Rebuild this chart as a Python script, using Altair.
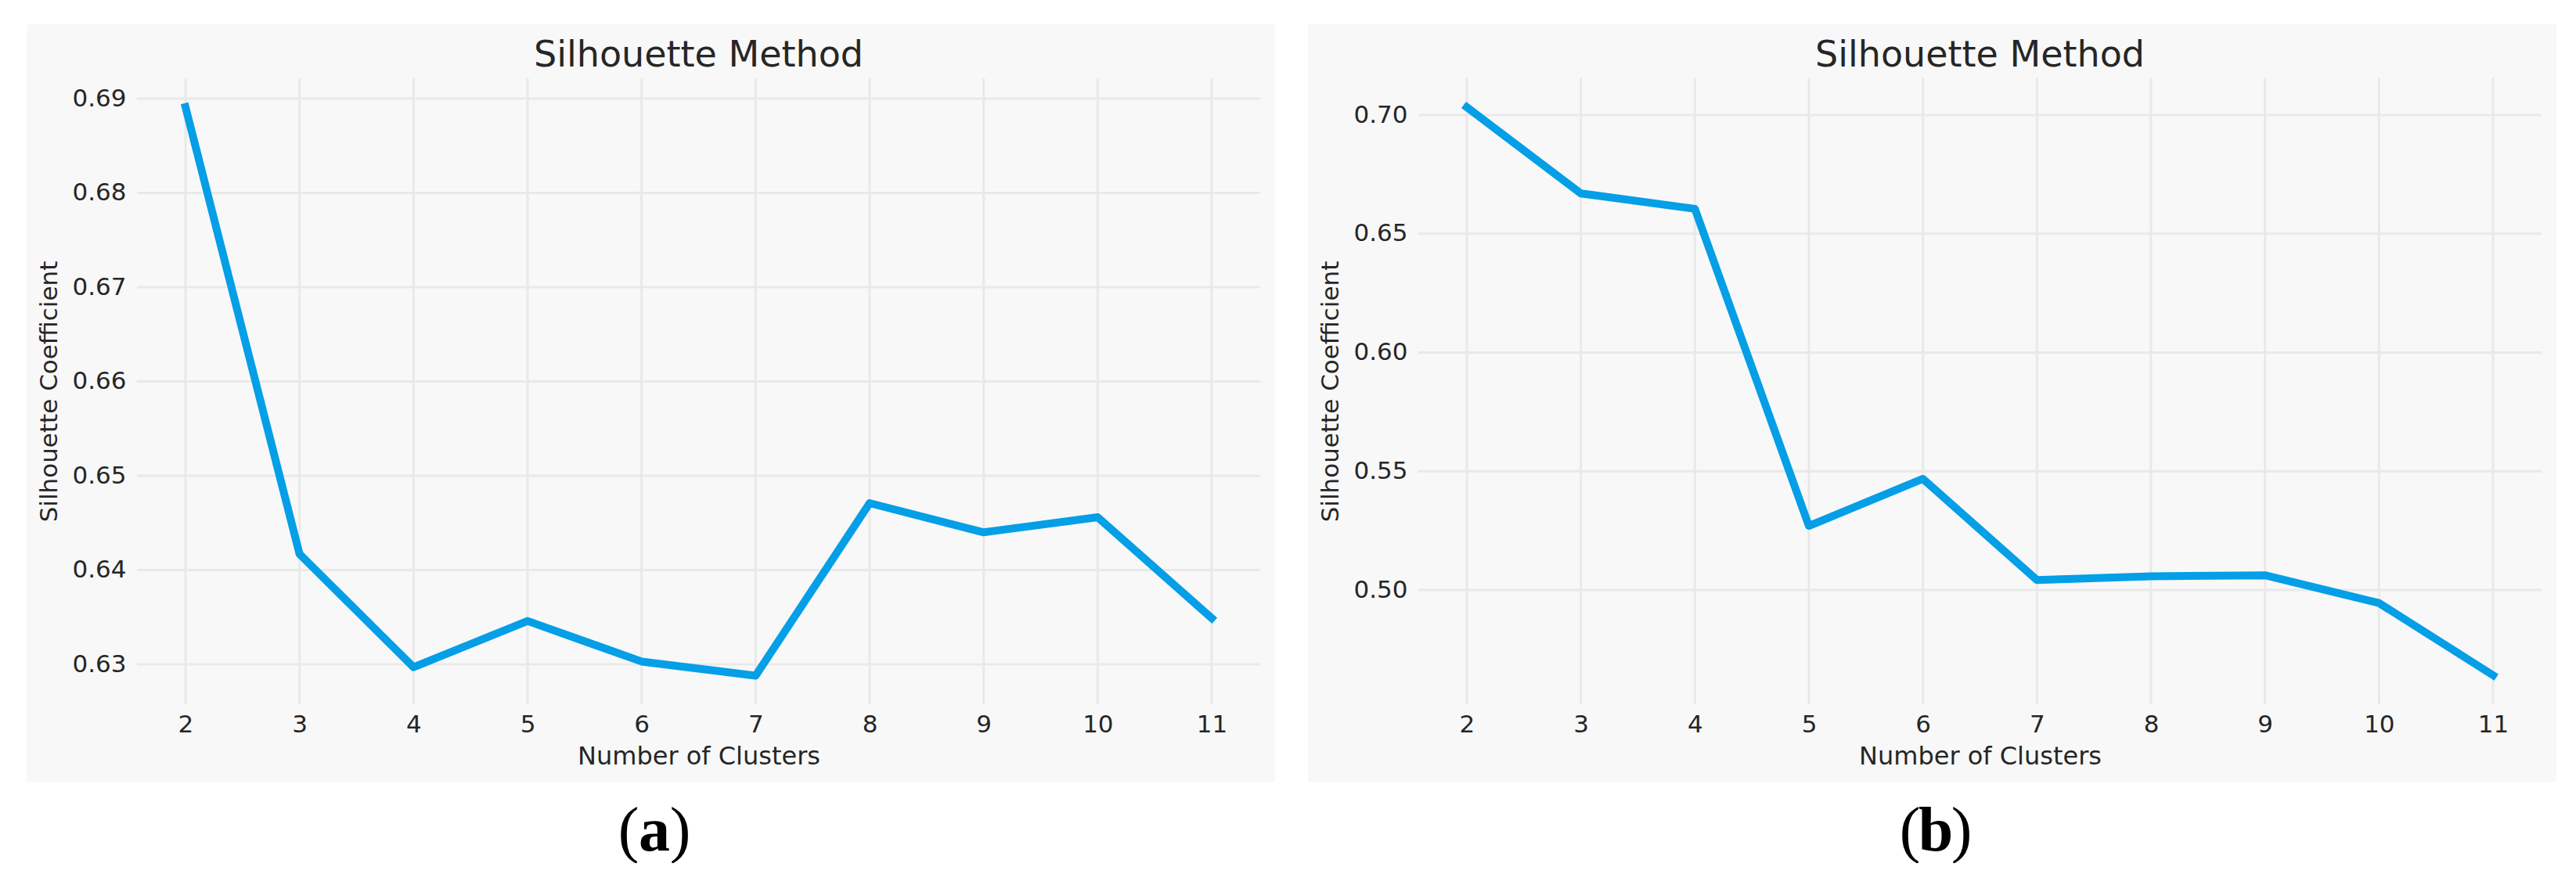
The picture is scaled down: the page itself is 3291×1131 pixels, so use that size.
import altair as alt
import pandas as pd

# ---------------- data ----------------
clusters = [2, 3, 4, 5, 6, 7, 8, 9, 10, 11]
sil_a = [0.6891, 0.6417, 0.6297, 0.6346, 0.6303, 0.6288, 0.6471, 0.6440, 0.6456, 0.6349]
sil_b = [0.7033, 0.6670, 0.6605, 0.5270, 0.5468, 0.5042, 0.5058, 0.5062, 0.4945, 0.4641]
yticks_a = [0.63, 0.64, 0.65, 0.66, 0.67, 0.68, 0.69]
yticks_b = [0.50, 0.55, 0.60, 0.65, 0.70]
x_domain = [1.5745, 11.4255]
y_domain_a = [0.62577, 0.69216]
y_domain_b = [0.4519, 0.7155]
title_text = "Silhouette Method"
x_title = "Number of Clusters"
y_title = "Silhouette Coefficient"
panel_letters = ["a", "b"]

# ---------------- style ----------------
W, H = 1435, 800
LINE = "#049fe6"
GRID = "#e9e9e9"
PANEL = "#f8f8f8"
TXT = "#262626"
SANS = "DejaVu Sans"
SERIF = "Liberation Serif"


def panel(values, yticks, ydom, letter):
    xs = alt.Scale(domain=x_domain, nice=False, zero=False)
    ys = alt.Scale(domain=ydom, nice=False, zero=False)
    df = pd.DataFrame({"k": clusters, "s": values})

    x_axis = alt.Axis(values=clusters, format="d", title=x_title, grid=False,
                      domain=False, ticks=False, tickSize=0, labelFont=SANS,
                      labelFontSize=31, labelColor=TXT, labelPadding=11,
                      labelFlush=False, labelOverlap=False,
                      titleFont=SANS, titleFontSize=32, titleFontWeight="normal",
                      titleColor=TXT, titlePadding=10, zindex=1)
    y_axis = alt.Axis(values=yticks, format=".2f", title=y_title, grid=False,
                      domain=False, ticks=False, tickSize=0, labelFont=SANS,
                      labelFontSize=31, labelColor=TXT, labelPadding=14,
                      labelFlush=False, labelOverlap=False,
                      titleFont=SANS, titleFontSize=31, titleFontWeight="normal",
                      titleColor=TXT, titlePadding=12, zindex=1)

    bg = alt.Chart(pd.DataFrame({"t": [0]})).mark_rect(fill=PANEL).encode(
        x=alt.value(-141), x2=alt.value(W + 19),
        y=alt.value(-69), y2=alt.value(H + 100))

    vgrid = alt.Chart(pd.DataFrame({"k": clusters})).mark_rule(
        color=GRID, strokeWidth=3).encode(
        x=alt.X("k:Q", scale=xs, axis=x_axis))

    hgrid = alt.Chart(pd.DataFrame({"s": yticks})).mark_rule(
        color=GRID, strokeWidth=3).encode(
        y=alt.Y("s:Q", scale=ys, axis=y_axis))

    line = alt.Chart(df).mark_line(
        color=LINE, strokeWidth=10, strokeCap="square", strokeJoin="round").encode(
        x=alt.X("k:Q", scale=xs, axis=x_axis),
        y=alt.Y("s:Q", scale=ys, axis=y_axis))

    title = alt.Chart(pd.DataFrame({"t": [title_text]})).mark_text(
        font=SANS, fontSize=46, color=TXT, align="center",
        baseline="alphabetic").encode(
        text="t:N", x=alt.value(W / 2), y=alt.value(-15))

    cap_open = alt.Chart(pd.DataFrame({"t": ["("]})).mark_text(
        font=SERIF, fontSize=80, color="black", align="center",
        baseline="alphabetic").encode(
        text="t:N", x=alt.value(628), y=alt.value(987))
    cap_letter = alt.Chart(pd.DataFrame({"t": [letter]})).mark_text(
        font=SERIF, fontSize=80, fontWeight="bold", color="black",
        align="center", baseline="alphabetic").encode(
        text="t:N", x=alt.value(661), y=alt.value(987))
    cap_close = alt.Chart(pd.DataFrame({"t": [")"]})).mark_text(
        font=SERIF, fontSize=80, color="black", align="center",
        baseline="alphabetic").encode(
        text="t:N", x=alt.value(694), y=alt.value(987))

    return alt.layer(bg, vgrid, hgrid, line, title, cap_open, cap_letter,
                     cap_close).properties(width=W, height=H)


pa = panel(sil_a, yticks_a, y_domain_a, panel_letters[0])
pb = panel(sil_b, yticks_b, y_domain_b, panel_letters[1])

chart = alt.hconcat(pa, pb, spacing=202, bounds="flush").properties(
    padding={"left": 26, "top": 23, "right": 0, "bottom": 0},
    background="white",
).configure_view(strokeWidth=0)

chart.save("out.html", embed_options={"renderer": "svg", "actions": False})
